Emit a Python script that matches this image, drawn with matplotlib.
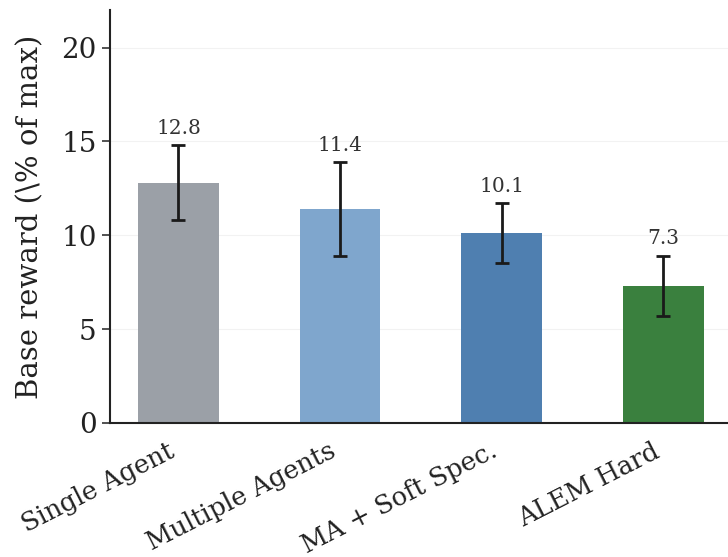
import matplotlib
matplotlib.use('Agg')
import matplotlib.pyplot as plt
import numpy as np

# data
methods = ['Single Agent', 'Multiple Agents', 'MA + Soft Spec.', 'ALEM Hard']
reward = [12.8, 11.4, 10.1, 7.3]
err = [2.0, 2.5, 1.6, 1.6]
colors = ['#9ba0a7', '#7fa6cd', '#4f7fb0', '#3a803e']

plt.rcParams['font.family'] = 'DejaVu Serif'
fig = plt.figure(figsize=(7.28, 5.57), dpi=100)
ax = fig.add_axes([0.151, 0.2406, 0.849, 0.7415])

x = np.arange(len(methods))
ax.bar(x, reward, width=0.5, color=colors, zorder=2)
ax.errorbar(x, reward, yerr=err, fmt='none', ecolor='#1a1a1a', elinewidth=2, capsize=5, capthick=2, zorder=3)
for xi, v, e in zip(x, reward, err):
    ax.text(xi, v + e + 0.4, f'{v:.1f}', ha='center', va='bottom', fontsize=14.5, color='#333333')

ax.set_xlim(-0.424, 3.40); ax.set_ylim(0, 22)
ax.set_yticks([0, 5, 10, 15, 20])
ax.set_xticks(x)
ax.set_xticklabels(methods, rotation=27, ha='right', fontsize=18.5, color='#222222')
ax.tick_params(axis='x', length=0, pad=11)
ax.tick_params(axis='y', labelsize=20, length=6, width=1.2, color='#333333', labelcolor='#222222')
ax.set_ylabel(r'Base reward (\% of max)', fontsize=21, labelpad=12, color='#222222')
ax.yaxis.grid(True, color='#000000', alpha=0.05, lw=0.8, zorder=0)
for s in ['top', 'right']:
    ax.spines[s].set_visible(False)
for s in ['left', 'bottom']:
    ax.spines[s].set_linewidth(1.5); ax.spines[s].set_color('#222222')
fig.savefig('out.png', dpi=100)
